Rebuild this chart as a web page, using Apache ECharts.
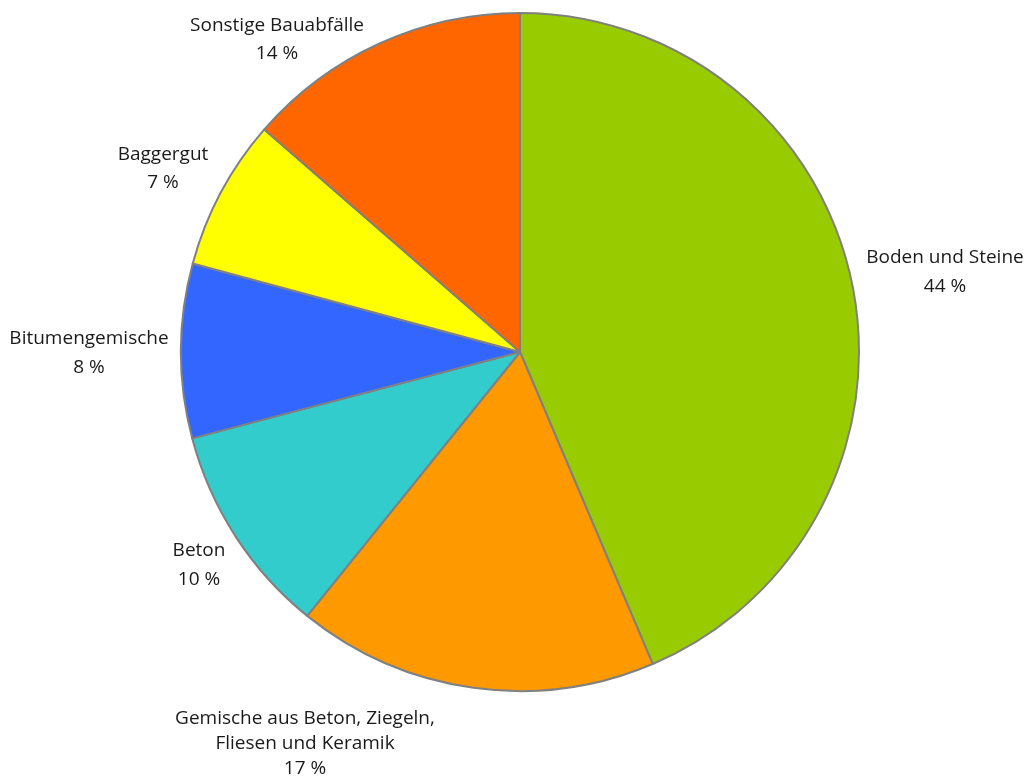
<!DOCTYPE html>
<html><head><meta charset="utf-8">
<script src="https://cdn.jsdelivr.net/npm/echarts@6/dist/echarts.min.js"></script>
<style>html,body{margin:0;padding:0;background:#fff}#c{width:1029px;height:780px}</style>
</head><body><div id="c"></div>
<script>
const categories = ["Boden und Steine", "Gemische aus Beton, Ziegeln,\nFliesen und Keramik", "Beton", "Bitumengemische", "Baggergut", "Sonstige Bauabfälle"];
const values = [43.6, 17.2, 10.1, 8.3, 7.2, 13.6];
const colors = ["#99CC00", "#FF9900", "#33CCCC", "#3366FF", "#FFFF00", "#FF6600"];

// label block centres (layout, not data)
const labelCenters = [[945, 272], [305, 744], [199, 565], [89, 353], [163, 169], [277, 40]];
const labelLineHeights = [29, 25, 29, 29, 28, 28];

const chart = echarts.init(document.getElementById('c'));
chart.setOption({
  animation: false,
  series: [{
    type: 'pie',
    center: [520, 352],
    radius: 339,
    startAngle: 90,
    clockwise: true,
    data: categories.map((n, i) => ({
      name: n, value: values[i],
      itemStyle: { color: colors[i] },
      label: { lineHeight: labelLineHeights[i] }
    })),
    itemStyle: { borderColor: '#808080', borderWidth: 2 },
    label: {
      show: true, position: 'outside', overflow: 'none',
      formatter: p => p.name + '\n' + Math.round(p.percent) + ' %',
      fontFamily: 'Open Sans', fontSize: 19, lineHeight: 29, color: '#1a1a1a', align: 'center'
    },
    labelLine: { show: false },
    labelLayout: p => ({
      x: labelCenters[p.dataIndex][0],
      y: labelCenters[p.dataIndex][1],
      align: 'center',
      verticalAlign: 'middle'
    })
  }]
});
</script></body></html>
